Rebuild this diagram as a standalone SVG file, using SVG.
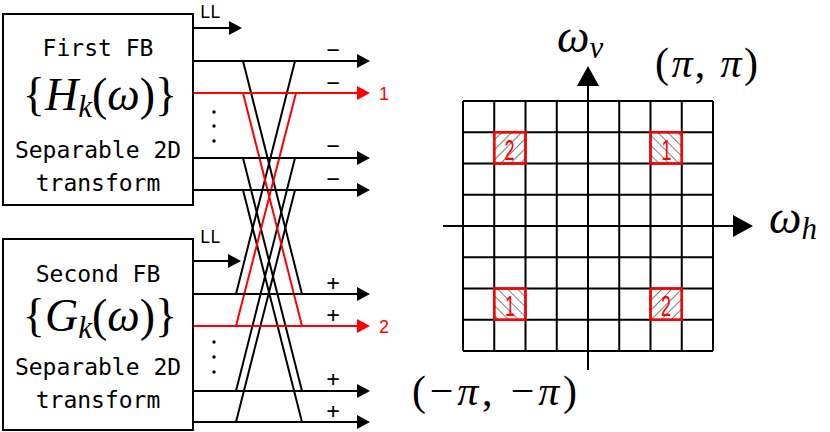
<svg xmlns="http://www.w3.org/2000/svg" width="830" height="432" viewBox="0 0 830 432">
<style>
.box{fill:#fff;stroke:#000;stroke-width:2}
.mono{font-family:"DejaVu Sans Mono","Liberation Mono",monospace;fill:#000}
.t{font-size:23px;text-anchor:middle}
.math{font-family:"Liberation Serif","DejaVu Serif",serif;fill:#000}
.it{font-style:italic}
.ln{stroke:#000;stroke-width:2;fill:none}
.rd{stroke:#f00;stroke-width:2;fill:none}
.g{stroke:#000;stroke-width:2;fill:none}
.sq{stroke:#f00;stroke-width:2.5}
.dig{font-family:"Liberation Sans",Arial,sans-serif;font-size:30px;fill:#f00;text-anchor:middle}
.lab{font-family:"Liberation Sans",Arial,sans-serif;font-size:18px;fill:#f00}
.sg{font-size:22px;text-anchor:middle}
</style>
<defs>
<marker id="ab" markerUnits="userSpaceOnUse" markerWidth="14" markerHeight="14" refX="0" refY="7" orient="auto"><path d="M0,0 L13,7 L0,14 Z" fill="#000"/></marker>
<marker id="ar" markerUnits="userSpaceOnUse" markerWidth="14" markerHeight="14" refX="0" refY="7" orient="auto"><path d="M0,0 L13,7 L0,14 Z" fill="#f00"/></marker>
<marker id="ax" markerUnits="userSpaceOnUse" markerWidth="20" markerHeight="22" refX="0" refY="11" orient="auto"><path d="M0,0 L20,11 L0,22 Z" fill="#000"/></marker>
<pattern id="hb" patternUnits="userSpaceOnUse" width="7" height="7" patternTransform="rotate(-45)"><line x1="0" y1="0" x2="0" y2="7" stroke="#000" stroke-width="1"/></pattern>
<pattern id="hf" patternUnits="userSpaceOnUse" width="7" height="7" patternTransform="rotate(45)"><line x1="0" y1="0" x2="0" y2="7" stroke="#000" stroke-width="1"/></pattern>
</defs>

<g id="connectors">
  <g id="diagonals-black">
    <path class="ln" d="M243,61 L302,294 M295,61 L236,294"/>
    <path class="ln" d="M243,158 L302,391 M295,158 L236,391"/>
    <path class="ln" d="M243,190 L302,422 M295,190 L236,422"/>
  </g>
  <g id="diagonals-red">
    <path class="rd" d="M243,93 L302,326 M296,93 L236,326"/>
  </g>
  <g id="outputs">
    <line class="ln" x1="193" y1="28" x2="229" y2="28" marker-end="url(#ab)"/>
    <line class="ln" x1="193" y1="61" x2="357" y2="61" marker-end="url(#ab)"/>
    <line class="rd" x1="193" y1="93" x2="357" y2="93" marker-end="url(#ar)"/>
    <line class="ln" x1="193" y1="158" x2="357" y2="158" marker-end="url(#ab)"/>
    <line class="ln" x1="193" y1="190" x2="357" y2="190" marker-end="url(#ab)"/>
    <line class="ln" x1="193" y1="261" x2="228" y2="261" marker-end="url(#ab)"/>
    <line class="ln" x1="193" y1="294" x2="357" y2="294" marker-end="url(#ab)"/>
    <line class="rd" x1="193" y1="326" x2="357" y2="326" marker-end="url(#ar)"/>
    <line class="ln" x1="193" y1="391" x2="357" y2="391" marker-end="url(#ab)"/>
    <line class="ln" x1="193" y1="422" x2="357" y2="422" marker-end="url(#ab)"/>
  </g>
</g>

<g id="first-fb">
  <rect class="box" x="3" y="14" width="190" height="191"/>
  <text class="mono t" x="98" y="56">First FB</text>
  <text class="math" x="100" y="110" text-anchor="middle" font-size="46">{<tspan class="it">H</tspan><tspan class="it" font-size="31" dy="7">k</tspan><tspan dy="-7">(</tspan><tspan class="it">ω</tspan>)}</text>
  <text class="mono t" x="98" y="158">Separable 2D</text>
  <text class="mono t" x="98" y="191">transform</text>
</g>

<g id="second-fb">
  <rect class="box" x="3" y="239" width="190" height="191"/>
  <text class="mono t" x="98" y="282">Second FB</text>
  <text class="math" x="100" y="331" text-anchor="middle" font-size="46">{<tspan class="it">G</tspan><tspan class="it" font-size="31" dy="7">k</tspan><tspan dy="-7">(</tspan><tspan class="it">ω</tspan>)}</text>
  <text class="mono t" x="98" y="375">Separable 2D</text>
  <text class="mono t" x="98" y="408">transform</text>
</g>

<g id="output-labels">
  <text class="mono" x="200" y="18" font-size="17">LL</text>
  <text class="mono" x="200" y="243" font-size="17">LL</text>
  <g fill="#000">
    <circle cx="214" cy="112" r="1.7"/><circle cx="214" cy="126" r="1.7"/><circle cx="214" cy="141" r="1.7"/>
    <circle cx="214" cy="342" r="1.7"/><circle cx="214" cy="357" r="1.7"/><circle cx="214" cy="372" r="1.7"/>
  </g>
  <text class="mono sg" x="333" y="57">−</text>
  <text class="mono sg" x="333" y="90">−</text>
  <text class="mono sg" x="333" y="153">−</text>
  <text class="mono sg" x="333" y="186">−</text>
  <text class="mono sg" x="333" y="290">+</text>
  <text class="mono sg" x="333" y="322">+</text>
  <text class="mono sg" x="333" y="386">+</text>
  <text class="mono sg" x="333" y="418">+</text>
  <text class="lab" x="379" y="100">1</text>
  <text class="lab" x="379" y="333">2</text>
</g>

<g id="frequency-plane">
  <g class="g">
    <path d="M463,101 V351 M494.25,101 V351 M525.5,101 V351 M556.75,101 V351 M619.25,101 V351 M650.5,101 V351 M681.75,101 V351 M713,101 V351"/>
    <path d="M463,101 H713 M463,132.25 H713 M463,163.5 H713 M463,194.75 H713 M463,257.25 H713 M463,288.5 H713 M463,319.75 H713 M463,351 H713"/>
  </g>
  <line class="g" x1="588" y1="370" x2="588" y2="86" marker-end="url(#ax)"/>
  <line class="g" x1="443" y1="226" x2="733" y2="226" marker-end="url(#ax)"/>

  <g id="band-1-upper">
    <rect x="650.5" y="132.25" width="31.25" height="31.25" fill="url(#hb)"/>
    <rect class="sq" x="650.5" y="132.25" width="31.25" height="31.25" fill="none"/>
    <text class="dig" transform="translate(666.5,160) scale(0.6,1)">1</text>
  </g>
  <g id="band-2-upper">
    <rect x="494.25" y="132.25" width="31.25" height="31.25" fill="url(#hf)"/>
    <rect class="sq" x="494.25" y="132.25" width="31.25" height="31.25" fill="none"/>
    <text class="dig" transform="translate(509.5,160) scale(0.6,1)">2</text>
  </g>
  <g id="band-1-lower">
    <rect x="494.25" y="288.5" width="31.25" height="31.25" fill="url(#hb)"/>
    <rect class="sq" x="494.25" y="288.5" width="31.25" height="31.25" fill="none"/>
    <text class="dig" transform="translate(510,316) scale(0.6,1)">1</text>
  </g>
  <g id="band-2-lower">
    <rect x="650.5" y="288.5" width="31.25" height="31.25" fill="url(#hf)"/>
    <rect class="sq" x="650.5" y="288.5" width="31.25" height="31.25" fill="none"/>
    <text class="dig" transform="translate(666,316) scale(0.6,1)">2</text>
  </g>

  <text class="math it" x="557" y="52" font-size="46">ω<tspan font-size="31" dy="6">v</tspan></text>
  <text class="math" x="655" y="77" font-size="42" textLength="103" lengthAdjust="spacing">(<tspan class="it">π</tspan>, <tspan class="it">π</tspan>)</text>
  <text class="math it" x="769" y="233" font-size="46">ω<tspan font-size="31" dy="6">h</tspan></text>
  <text class="math" x="412" y="405" font-size="42" textLength="165" lengthAdjust="spacing">(−<tspan class="it">π</tspan>, −<tspan class="it">π</tspan>)</text>
</g>
</svg>
